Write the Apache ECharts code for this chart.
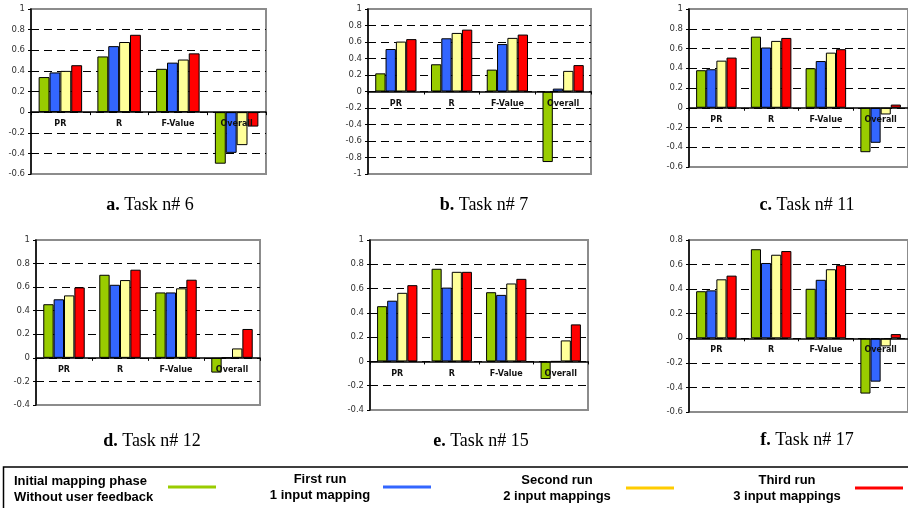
<!DOCTYPE html>
<html>
<head>
<meta charset="utf-8">
<script src="https://cdn.jsdelivr.net/npm/echarts@6/dist/echarts.min.js"></script>
<style>
html,body{margin:0;padding:0;background:#fff;}
#chart{width:908px;height:508px;}
</style>
</head>
<body>
<div id="chart"></div>
<script>
// ---- data ----
const categories = ['PR', 'R', 'F-Value', 'Overall'];
const seriesNames = [
  'Initial mapping phase\nWithout user feedback',
  'First run\n1 input mapping',
  'Second run\n2 input mappings',
  'Third run\n3 input mappings'
];

// Task n# 6
const task6Initial = [0.34, 0.54, 0.42, -0.50];
const task6Run1    = [0.385, 0.64, 0.48, -0.395];
const task6Run2    = [0.40, 0.68, 0.51, -0.32];
const task6Run3    = [0.455, 0.75, 0.57, -0.14];
// Task n# 7
const task7Initial = [0.22, 0.33, 0.265, -0.855];
const task7Run1    = [0.515, 0.645, 0.575, 0.035];
const task7Run2    = [0.605, 0.71, 0.65, 0.25];
const task7Run3    = [0.635, 0.75, 0.69, 0.32];
// Task n# 11
const task11Initial = [0.38, 0.72, 0.40, -0.45];
const task11Run1    = [0.39, 0.61, 0.473, -0.355];
const task11Run2    = [0.477, 0.677, 0.558, -0.068];
const task11Run3    = [0.508, 0.707, 0.593, 0.032];
// Task n# 12
const task12Initial = [0.455, 0.705, 0.555, -0.125];
const task12Run1    = [0.497, 0.62, 0.555, 0];
const task12Run2    = [0.53, 0.66, 0.59, 0.08];
const task12Run3    = [0.598, 0.748, 0.663, 0.245];
// Task n# 15
const task15Initial = [0.455, 0.763, 0.57, -0.145];
const task15Run1    = [0.50, 0.608, 0.548, 0];
const task15Run2    = [0.565, 0.738, 0.642, 0.173];
const task15Run3    = [0.628, 0.738, 0.68, 0.305];
// Task n# 17
const task17Initial = [0.383, 0.725, 0.403, -0.45];
const task17Run1    = [0.39, 0.613, 0.476, -0.353];
const task17Run2    = [0.48, 0.68, 0.562, -0.066];
const task17Run3    = [0.51, 0.71, 0.595, 0.034];

const captionLetters = ['a.', 'b.', 'c.', 'd.', 'e.', 'f.'];
const captionTexts = ['Task n# 6', 'Task n# 7', 'Task n# 11', 'Task n# 12', 'Task n# 15', 'Task n# 17'];

// y-axis tick settings per panel
const yMins = [-0.6, -1, -0.6, -0.4, -0.4, -0.6];
const yMaxs = [1, 1, 1, 1, 1, 0.8];
const yStep = 0.2;

const panels = [
  [task6Initial, task6Run1, task6Run2, task6Run3],
  [task7Initial, task7Run1, task7Run2, task7Run3],
  [task11Initial, task11Run1, task11Run2, task11Run3],
  [task12Initial, task12Run1, task12Run2, task12Run3],
  [task15Initial, task15Run1, task15Run2, task15Run3],
  [task17Initial, task17Run1, task17Run2, task17Run3]
];

// ---- layout / style ----
const barColors = ['#99CC00', '#3366FF', '#FFFF99', '#FF0000'];
const legendColors = ['#99CC00', '#3366FF', '#FFCC00', '#FF0000'];
const gridBoxes = [
  {left: 31, top: 9, width: 235, height: 165},
  {left: 368, top: 9, width: 223, height: 165},
  {left: 689, top: 9, width: 226, height: 158},
  {left: 36, top: 240, width: 224, height: 165},
  {left: 370, top: 240, width: 218, height: 170},
  {left: 689, top: 240, width: 224, height: 172}
];
const captionPos = [[150, 196], [484, 196], [807, 196], [152, 432], [481, 432], [807, 431]];

const grid = [], xAxis = [], yAxis = [], series = [], title = [];
gridBoxes.forEach((g, i) => {
  grid.push(Object.assign({
    show: true, borderColor: '#8c8c8c', borderWidth: 2, backgroundColor: 'transparent'
  }, g));
  // place the category axis (line, ticks, labels) at the value 0 of this panel
  const zeroOffset = -g.height * (0 - yMins[i]) / (yMaxs[i] - yMins[i]);
  xAxis.push({
    type: 'category', gridIndex: i, data: categories, z: 5,
    position: 'bottom', offset: zeroOffset,
    axisLine: {onZero: false, lineStyle: {color: '#000', width: 1.5}},
    axisTick: {show: true, length: 3, lineStyle: {color: '#000'}},
    axisLabel: {margin: 8, fontFamily: 'DejaVu Sans', fontWeight: 'bold', fontSize: 8, color: '#111'},
    splitLine: {show: false}
  });
  yAxis.push({
    type: 'value', gridIndex: i, min: yMins[i], max: yMaxs[i], interval: yStep,
    axisLine: {show: true, lineStyle: {color: '#000', width: 1.5}},
    axisTick: {show: true, length: 3, lineStyle: {color: '#000'}},
    axisLabel: {margin: 6, fontFamily: 'DejaVu Sans', fontSize: 8.5, color: '#333'},
    splitLine: {show: true, showMinLine: false, showMaxLine: false,
      lineStyle: {color: '#000', width: 1, type: [8, 5]}}
  });
  panels[i].forEach((vals, s) => {
    series.push({
      type: 'bar', name: seriesNames[s], xAxisIndex: i, yAxisIndex: i,
      data: vals, barGap: '0%', barCategoryGap: '26%',
      itemStyle: {color: barColors[s], borderColor: '#000', borderWidth: 1},
      animation: false
    });
  });
  title.push({
    text: '{b|' + captionLetters[i] + '} {n|' + captionTexts[i] + '}',
    left: captionPos[i][0], top: captionPos[i][1], textAlign: 'center', padding: 0,
    textStyle: {
      fontWeight: 'normal', fontFamily: 'Liberation Serif', fontSize: 18, color: '#000',
      rich: {
        b: {fontFamily: 'Liberation Serif', fontWeight: 'bold', fontSize: 18, color: '#000'},
        n: {fontFamily: 'Liberation Serif', fontWeight: 'normal', fontSize: 18, color: '#000'}
      }
    }
  });
});

// legend drawn as graphic
const legendFont = 'bold 13px "Liberation Sans", Arial, sans-serif';
const graphic = [
  {type: 'rect', shape: {x: 3.5, y: 467, width: 910, height: 60},
   style: {fill: 'none', stroke: '#000', lineWidth: 1.5}},
  {type: 'text', x: 14, y: 489, style: {text: seriesNames[0], font: legendFont, fill: '#000',
    textAlign: 'left', textVerticalAlign: 'middle', lineHeight: 16}},
  {type: 'text', x: 320, y: 487, style: {text: seriesNames[1], font: legendFont, fill: '#000',
    textAlign: 'center', textVerticalAlign: 'middle', lineHeight: 16}},
  {type: 'text', x: 557, y: 488, style: {text: seriesNames[2], font: legendFont, fill: '#000',
    textAlign: 'center', textVerticalAlign: 'middle', lineHeight: 16}},
  {type: 'text', x: 787, y: 488, style: {text: seriesNames[3], font: legendFont, fill: '#000',
    textAlign: 'center', textVerticalAlign: 'middle', lineHeight: 16}}
];
const legendLines = [[168, 216, 487], [383, 431, 487], [626, 674, 488], [855, 903, 488]];
legendLines.forEach((l, i) => {
  graphic.push({type: 'line', shape: {x1: l[0], y1: l[2], x2: l[1], y2: l[2]},
    style: {stroke: legendColors[i], lineWidth: 3}});
});

const chart = echarts.init(document.getElementById('chart'), null, {renderer: 'canvas'});
chart.setOption({
  animation: false,
  backgroundColor: '#fff',
  title, grid, xAxis, yAxis, series, graphic
});
</script>
</body>
</html>
